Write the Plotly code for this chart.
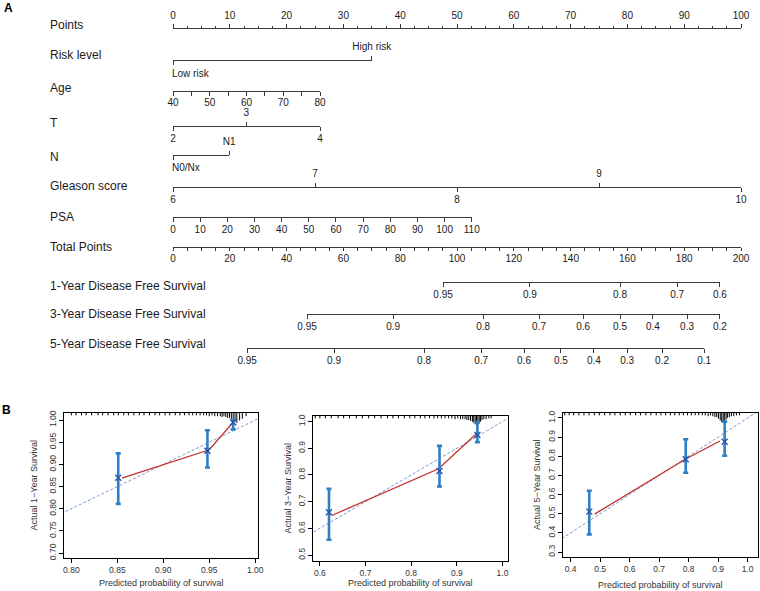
import plotly.graph_objects as go

W, H = 760, 591
FONT = "Liberation Sans, Arial, Helvetica, sans-serif"

# ---------------- data: nomogram ----------------
points_scale = [0, 100]
risk_labels = ["Low risk", "High risk"]
risk_points = [0, 35]
age_scale = [40, 80]
age_points = [0, 25.9]
t_labels = ["2", "3", "4"]
t_points = [0, 12.9, 25.9]
n_labels = ["N0/Nx", "N1"]
n_points = [0, 9.9]
gleason_labels = ["6", "7", "8", "9", "10"]
gleason_points = [0, 25, 50, 75, 100]
psa_scale = [0, 110]
psa_points = [0, 52.6]
total_scale = [0, 200]
dfs1_labels = ["0.95", "0.9", "0.8", "0.7", "0.6"]
dfs1_total = [95.1, 125.7, 157.4, 177.5, 192.6]
dfs3_labels = ["0.95", "0.9", "0.8", "0.7", "0.6", "0.5", "0.4", "0.3", "0.2"]
dfs3_total = [47.2, 77.5, 109.2, 128.9, 144.4, 157.4, 169.0, 181.0, 192.6]
dfs5_labels = ["0.95", "0.9", "0.8", "0.7", "0.6", "0.5", "0.4", "0.3", "0.2", "0.1"]
dfs5_total = [26.1, 56.7, 88.4, 108.5, 123.6, 136.6, 148.2, 159.9, 172.2, 187.0]

# ---------------- data: calibration ----------------
cal_years = ["1", "3", "5"]
cal_pred = [[0.851, 0.948, 0.976], [0.620, 0.862, 0.945], [0.463, 0.790, 0.922]]
cal_corr = [[0.870, 0.931, 0.995], [0.660, 0.815, 0.950], [0.511, 0.784, 0.876]]
cal_lower = [[0.811, 0.893, 0.979], [0.557, 0.757, 0.923], [0.392, 0.714, 0.803]]
cal_upper = [[0.925, 0.977, 1.000], [0.748, 0.909, 0.998], [0.620, 0.889, 0.981]]
app_x = [[0.855, 0.950, 0.975], [0.626, 0.860, 0.944], [0.481, 0.790, 0.906]]
app_y = [[0.869, 0.933, 0.993], [0.648, 0.823, 0.956], [0.498, 0.786, 0.880]]
ideal = [0.0, 1.2]
rug_x = [
    [0.800, 0.805, 0.811, 0.816, 0.822, 0.829, 0.834, 0.840, 0.846, 0.851, 0.857, 0.862,
     0.868, 0.874, 0.879, 0.885, 0.891, 0.896, 0.902, 0.907, 0.913, 0.918, 0.923, 0.928,
     0.932, 0.936, 0.940, 0.944, 0.947, 0.950, 0.953, 0.956, 0.959, 0.962, 0.964, 0.966,
     0.968, 0.970, 0.972, 0.974, 0.976, 0.978, 0.980, 0.983, 0.986, 0.990],
    [0.590, 0.600, 0.612, 0.625, 0.640, 0.652, 0.665, 0.680, 0.693, 0.707, 0.720, 0.734,
     0.748, 0.760, 0.772, 0.785, 0.797, 0.808, 0.820, 0.830, 0.840, 0.850, 0.858, 0.866,
     0.874, 0.882, 0.889, 0.896, 0.902, 0.908, 0.913, 0.918, 0.922, 0.926, 0.930, 0.934,
     0.937, 0.940, 0.943, 0.946, 0.949, 0.952, 0.955, 0.959, 0.964, 0.970, 0.975],
    [0.380, 0.395, 0.410, 0.428, 0.445, 0.462, 0.480, 0.497, 0.515, 0.533, 0.550, 0.568,
     0.585, 0.602, 0.620, 0.637, 0.655, 0.672, 0.690, 0.706, 0.722, 0.738, 0.753, 0.768,
     0.782, 0.796, 0.809, 0.822, 0.834, 0.846, 0.856, 0.866, 0.874, 0.882, 0.889, 0.895,
     0.901, 0.907, 0.912, 0.917, 0.922, 0.927, 0.932, 0.938, 0.945, 0.953, 0.962, 0.972],
]
rug_n = [
    [1] * 28 + [1, 2, 1, 2, 2, 2, 3, 2, 3, 4, 4, 5, 6, 8, 10, 7, 5, 2],
    [1] * 27 + [2, 1, 2, 2, 2, 3, 3, 4, 5, 6, 8, 10, 9, 7, 5, 3, 2, 2, 1, 1],
    [1] * 30 + [1, 2, 1, 2, 3, 3, 5, 7, 9, 10, 8, 6, 4, 3, 2, 2, 1, 1],
]

# ---------------- layout constants ----------------
X_P0, X_P100 = 173.0, 741.0        # pixel of 0 and 100 points
LABEL_X = 47.5
LC = "#3a3a3a"
TC = "#1a1a1a"
BLUE = "#2f7fc6"
DBLUE = "#2257a8"
RED = "#c2302a"
DIAG = "#7d98d2"
TICK_FS = 10
LABEL_FS = 12


def fx(px):
    return px / W


def fy(py):
    return 1 - py / H


def px_of_pts(p):
    return X_P0 + p * (X_P100 - X_P0) / 100.0


fig = go.Figure()
layout = dict(
    width=W, height=H, autosize=False,
    margin=dict(l=0, r=0, t=0, b=0, pad=0, autoexpand=False),
    paper_bgcolor="white", plot_bgcolor="rgba(0,0,0,0)",
    font=dict(family=FONT, color=TC),
    showlegend=False,
    yaxis=dict(domain=[0, 1], range=[0, 1], visible=False, fixedrange=True),
)
annotations = []
counter = [0]


def add_row_axis(lo_val, hi_val, lo_pts, hi_pts, ypx, side, **kw):
    counter[0] += 1
    i = counter[0]
    name = "xaxis" if i == 1 else f"xaxis{i}"
    ref = "x" if i == 1 else f"x{i}"
    ax = dict(
        anchor="free", position=fy(ypx),
        domain=[fx(px_of_pts(lo_pts)), fx(px_of_pts(hi_pts))],
        range=[lo_val, hi_val], side=side,
        showline=True, linecolor=LC, linewidth=1,
        ticks="outside", ticklen=4, tickwidth=1, tickcolor=LC,
        showgrid=False, zeroline=False, fixedrange=True, automargin=False,
        ticklabelstandoff=(2 if side == "top" else -1),
        tickfont=dict(size=TICK_FS, color=TC, family=FONT),
    )
    ax.update(kw)
    layout[name] = ax
    fig.add_trace(go.Scatter(x=[lo_val, hi_val], y=[0.5, 0.5], xaxis=ref, yaxis="y",
                             mode="markers", marker=dict(opacity=0, size=1),
                             hoverinfo="skip", showlegend=False))


def row_label(text, ypx):
    annotations.append(dict(text=text, x=fx(LABEL_X), y=fy(ypx), xref="paper", yref="paper",
                            xanchor="left", yanchor="middle", showarrow=False,
                            font=dict(size=LABEL_FS, color=TC, family=FONT)))


def categorical_row(labels, pts, ypx, left_note=False):
    lo, hi = pts[0], pts[-1]
    below = [i for i in range(len(labels)) if i % 2 == 0]
    above = [i for i in range(len(labels)) if i % 2 == 1]
    bkw = dict(tickmode="array", tickvals=[pts[i] for i in below],
               ticktext=[labels[i] for i in below])
    if left_note:
        bkw["showticklabels"] = False
        annotations.append(dict(text=labels[0], x=fx(px_of_pts(pts[0]) - 3), y=fy(ypx + 13),
                                xref="paper", yref="paper", xanchor="left", yanchor="middle",
                                showarrow=False, font=dict(size=TICK_FS, color=TC, family=FONT)))
    add_row_axis(lo, hi, lo, hi, ypx, "bottom", **bkw)
    add_row_axis(lo, hi, lo, hi, ypx, "top", tickmode="array",
                 tickvals=[pts[i] for i in above], ticktext=[labels[i] for i in above])


# Points
add_row_axis(points_scale[0], points_scale[1], 0, 100, 28.3, "top",
             tick0=0, dtick=10, ticklen=4, ticklabelstandoff=1,
             minor=dict(ticks="outside", ticklen=2, dtick=2.5, tick0=0, tickcolor=LC,
                        tickwidth=1, showgrid=False))
row_label("Points", 25)
# Risk level
categorical_row(risk_labels, risk_points, 60, left_note=True)
row_label("Risk level", 55)
# Age
add_row_axis(age_scale[0], age_scale[1], age_points[0], age_points[1], 90.5, "bottom",
             tick0=0, dtick=10, ticklabelstandoff=-2,
             minor=dict(ticks="outside", ticklen=4, dtick=5, tick0=0, tickcolor=LC,
                        tickwidth=1, showgrid=False))
row_label("Age", 88)
# T
categorical_row(t_labels, t_points, 126, left_note=False)
row_label("T", 123)
# N
categorical_row(n_labels, n_points, 155, left_note=True)
row_label("N", 157)
# Gleason
categorical_row(gleason_labels, gleason_points, 187.3, left_note=False)
row_label("Gleason score", 186)
# PSA
add_row_axis(psa_scale[0], psa_scale[1], psa_points[0], psa_points[1], 217.3, "bottom",
             tick0=0, dtick=10)
row_label("PSA", 217)
# Total points
add_row_axis(total_scale[0], total_scale[1], 0, 100, 246.7, "bottom",
             tick0=0, dtick=20, ticklen=3,
             minor=dict(ticks="outside", ticklen=3, dtick=5, tick0=0, tickcolor=LC,
                        tickwidth=1, showgrid=False))
row_label("Total Points", 247)
# Survival rows (positions in total points; 200 total points == 100 points)
for labels, tot, ypx, ly, title in [
    (dfs1_labels, dfs1_total, 282.3, 285.5, "1-Year Disease Free Survival"),
    (dfs3_labels, dfs3_total, 314.0, 313.5, "3-Year Disease Free Survival"),
    (dfs5_labels, dfs5_total, 347.7, 343.6, "5-Year Disease Free Survival"),
]:
    add_row_axis(tot[0], tot[-1], tot[0] / 2, tot[-1] / 2, ypx, "bottom",
                 tickmode="array", tickvals=tot, ticktext=labels)
    row_label(title, ly)

# ---------------- calibration plots ----------------
cal_frames = [(64, 258, 413, 558), (313, 508, 416, 561), (563, 758, 413, 557)]
cal_xrange = [[0.792, 1.003], [0.585, 1.012], [0.374, 1.035]]
cal_yrange = [[0.689, 1.016], [0.4775, 1.021], [0.274, 1.026]]
cal_dtick = [0.05, 0.1, 0.1]
cal_fmt = [".2f", ".1f", ".1f"]
cal_xtitle_y = [583, 583, 585]
cal_ytitle_x = [33, 287, 537]

for k in range(3):
    counter[0] += 1
    xi = counter[0]
    yi = k + 2
    xr, yr = cal_xrange[k], cal_yrange[k]
    l, r, t, b = cal_frames[k]
    xref, yref = f"x{xi}", f"y{yi}"
    common = dict(showline=True, linecolor="black", linewidth=1, mirror=True,
                  ticks="outside", ticklen=4, tickwidth=1, tickcolor="black",
                  showgrid=False, zeroline=False, fixedrange=True, automargin=False,
                  tickfont=dict(size=8.5, color="#333", family=FONT))
    layout[f"xaxis{xi}"] = dict(domain=[fx(l), fx(r)], range=xr, anchor=yref,
                                dtick=cal_dtick[k], tick0=0, tickformat=cal_fmt[k], **common)
    layout[f"yaxis{yi}"] = dict(domain=[fy(b), fy(t)], range=yr, anchor=xref,
                                dtick=cal_dtick[k], tick0=0, tickformat=cal_fmt[k],
                                tickangle=-90, **common)
    # ideal line
    fig.add_trace(go.Scatter(x=ideal, y=ideal, xaxis=xref, yaxis=yref, mode="lines",
                             line=dict(color=DIAG, width=1, dash="3px,2px"), hoverinfo="skip"))
    # apparent line
    fig.add_trace(go.Scatter(x=app_x[k], y=app_y[k], xaxis=xref, yaxis=yref, mode="lines",
                             line=dict(color=RED, width=1.3), hoverinfo="skip"))
    # rug of predictions at top
    dy = (yr[1] - yr[0]) / (b - t)
    rx, ry = [], []
    for xv, n in zip(rug_x[k], rug_n[k]):
        rx += [xv, xv, None]
        ry += [yr[1], yr[1] - (1.5 + 0.85 * n) * dy, None]
    fig.add_trace(go.Scatter(x=rx, y=ry, xaxis=xref, yaxis=yref, mode="lines",
                             line=dict(color="black", width=1), hoverinfo="skip"))
    # error bars + corrected estimates
    fig.add_trace(go.Scatter(
        x=cal_pred[k], y=cal_corr[k], xaxis=xref, yaxis=yref, mode="markers",
        marker=dict(symbol="x-thin", size=6, color=DBLUE, line=dict(width=1.4, color=DBLUE)),
        error_y=dict(type="data", symmetric=False,
                     array=[u - c for u, c in zip(cal_upper[k], cal_corr[k])],
                     arrayminus=[c - lo for c, lo in zip(cal_corr[k], cal_lower[k])],
                     color=BLUE, thickness=2.6, width=2.5),
        hoverinfo="skip"))
    annotations.append(dict(text="Predicted probability of survival", x=fx((l + r) / 2),
                            y=fy(cal_xtitle_y[k]), xref="paper", yref="paper",
                            xanchor="center", yanchor="middle", showarrow=False,
                            font=dict(size=9, color="#333", family=FONT)))
    annotations.append(dict(text=f"Actual {cal_years[k]}\u2212Year Survival",
                            x=fx(cal_ytitle_x[k]), y=fy((t + b) / 2), xref="paper",
                            yref="paper", xanchor="center", yanchor="middle", textangle=-90,
                            showarrow=False, font=dict(size=9, color="#333", family=FONT)))

for txt, x, y in [("A", 8, 8), ("B", 7, 410)]:
    annotations.append(dict(text=f"<b>{txt}</b>", x=fx(x), y=fy(y), xref="paper", yref="paper",
                            xanchor="center", yanchor="middle", showarrow=False,
                            font=dict(size=12, color="black", family=FONT)))

layout["annotations"] = annotations
fig.update_layout(**layout)
fig.write_html(
    "out.html",
    config={"displayModeBar": False, "staticPlot": True},
    post_script="document.body.style.margin='0';document.body.style.overflow='hidden';",
)
